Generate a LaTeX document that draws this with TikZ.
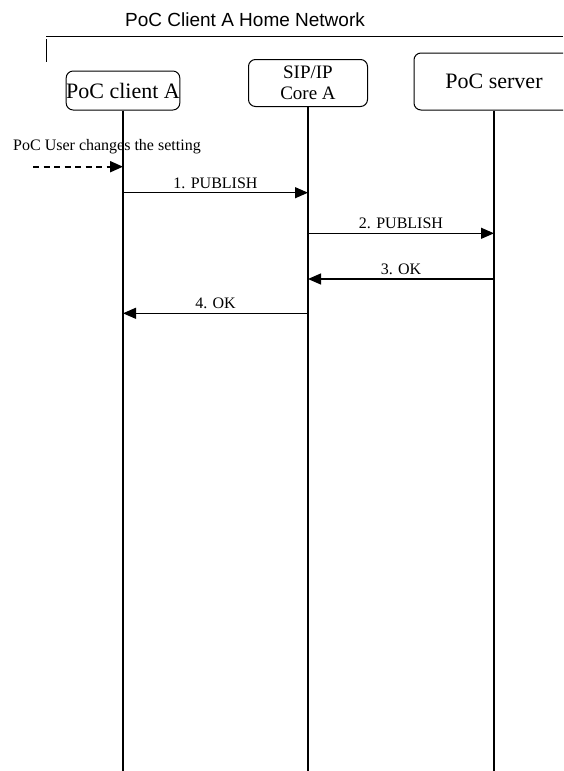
\documentclass[tikz,border=0pt]{standalone}
\usepackage{fontspec}
\setmainfont{Liberation Serif}
\newfontfamily\netfont{Liberation Sans}
\usetikzlibrary{arrows.meta,positioning}

\tikzset{
  actor/.style={draw,rounded corners=7pt,line width=1pt,inner sep=0pt,align=center},
  lifeline/.style={line width=1.2pt},
  msg/.style={line width=1.2pt,-{Triangle[length=13pt,width=11pt]}},
  msglbl/.style={font=\fontsize{16}{18}\selectfont,anchor=base,yshift=4.5pt,inner sep=0pt},
}

\begin{document}
\begin{tikzpicture}[x=1pt,y=-1pt]
  \useasboundingbox (0,0) rectangle (563,771);
  \clip (0,0) rectangle (563,771);
  % home network frame
  \node[font=\netfont\fontsize{19}{21}\selectfont,anchor=base west,inner sep=0pt] (net) at (125,26.5) {PoC Client A Home Network};
  \draw[line width=1pt] (46,36)--(563,36);
  \draw[line width=1pt] (46,39)--(46,62);
  % entities
  \node[actor,minimum width=113pt,minimum height=39pt,font=\fontsize{22}{24}\selectfont] (clientA) at (123,90.5) {PoC client A};
  \node[actor,minimum width=119pt,minimum height=47pt,font=\fontsize{19}{21.5}\selectfont] (sipA) at (308,83) {SIP/IP\\Core A};
  \node[actor,minimum width=160pt,minimum height=57pt,font=\fontsize{22}{24}\selectfont] (server) at (494,81.5) {PoC server};
  % lifelines
  \coordinate (clientA-end) at (123,771);
  \coordinate (sipA-end) at (308,771);
  \coordinate (server-end) at (494,771);
  \draw[lifeline] (clientA) -- (clientA-end);
  \draw[lifeline] (sipA) -- (sipA-end);
  \draw[lifeline] (server) -- (server-end);
  % user action
  \node[font=\fontsize{16}{18}\selectfont,anchor=base,inner sep=0pt] (setting) at (107,150) {PoC User changes the setting};
  \coordinate (user) at (33,166.7);
  \draw[msg,line width=2pt,dash pattern=on 6pt off 4.5pt] (user) -- (clientA |- user);
  % messages
  \coordinate (m1) at (0,192.7);
  \coordinate (m2) at (0,233.3);
  \coordinate (m3) at (0,279);
  \coordinate (m4) at (0,313.3);
  \draw[msg] (clientA |- m1) -- node[msglbl] {1. PUBLISH} (sipA |- m1);
  \draw[msg] (sipA |- m2) -- node[msglbl] {2. PUBLISH} (server |- m2);
  \draw[msg] (server |- m3) -- node[msglbl] {3. OK} (sipA |- m3);
  \draw[msg] (sipA |- m4) -- node[msglbl] {4. OK} (clientA |- m4);
\end{tikzpicture}
\end{document}
